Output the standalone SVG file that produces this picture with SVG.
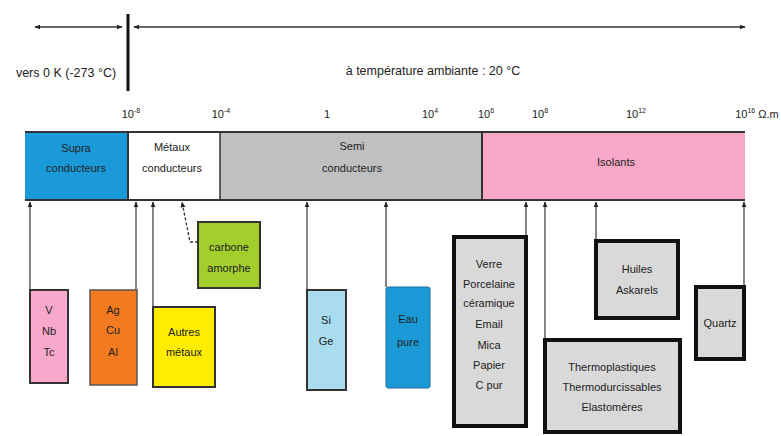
<svg xmlns="http://www.w3.org/2000/svg" width="781" height="436" viewBox="0 0 781 436">
<defs>
<marker id="ah" viewBox="0 0 10 10" refX="9" refY="5" markerWidth="6" markerHeight="6" orient="auto-start-reverse" markerUnits="userSpaceOnUse"><path d="M0,1 L10,5 L0,9 z" fill="#222"/></marker>
<style>
text{font-family:"Liberation Sans Narrow","Liberation Sans",Arial,sans-serif;font-size:11px;fill:#222;text-anchor:middle}
.lbl{font-size:10.5px}
.big{font-size:12.5px}
.c{stroke:#444;stroke-width:1.3;fill:none}
.box{stroke:#333;stroke-width:2}
.gbox{fill:#d9d9d9;stroke:#111;stroke-width:4}
</style>
</defs>
<rect width="781" height="436" fill="#fff"/>
<g id="top">
<line x1="35" y1="27" x2="122" y2="27" stroke="#333" stroke-width="1.5" marker-start="url(#ah)" marker-end="url(#ah)"/>
<line x1="128" y1="14" x2="128" y2="91" stroke="#111" stroke-width="3"/>
<line x1="134" y1="27" x2="745" y2="27" stroke="#333" stroke-width="1.5" marker-start="url(#ah)" marker-end="url(#ah)"/>
<text class="big" x="66" y="77">vers 0 K (-273 °C)</text>
<text class="big" x="433" y="75">à température ambiante : 20 °C</text>
</g>
<g id="scale" class="lbl">
<text x="131" y="118">10<tspan dy="-5" font-size="7">-8</tspan></text>
<text x="221" y="118">10<tspan dy="-5" font-size="7">-4</tspan></text>
<text x="327" y="118">1</text>
<text x="430" y="118">10<tspan dy="-5" font-size="7">4</tspan></text>
<text x="486" y="118">10<tspan dy="-5" font-size="7">6</tspan></text>
<text x="540" y="118">10<tspan dy="-5" font-size="7">8</tspan></text>
<text x="636" y="118">10<tspan dy="-5" font-size="7">12</tspan></text>
<text x="757" y="118">10<tspan dy="-5" font-size="7">16</tspan><tspan dy="5"> Ω.m</tspan></text>
</g>
<g id="bar">
<rect x="25" y="132" width="103" height="68" fill="#1b9ad9"/>
<rect x="128" y="132" width="92" height="68" fill="#fff"/>
<rect x="220" y="132" width="262" height="68" fill="#c0c0c0"/>
<rect x="482" y="132" width="263" height="68" fill="#f9a7c6"/>
<line x1="25" y1="132" x2="745" y2="132" stroke="#333" stroke-width="2"/>
<line x1="25" y1="200" x2="745" y2="200" stroke="#333" stroke-width="2"/>
<line x1="128" y1="132" x2="128" y2="200" stroke="#333" stroke-width="2"/>
<line x1="220" y1="132" x2="220" y2="200" stroke="#333" stroke-width="1.5"/>
<line x1="482" y1="132" x2="482" y2="200" stroke="#333" stroke-width="2"/>
<text x="76" y="152">Supra</text><text x="76" y="172">conducteurs</text>
<text x="172" y="151">Métaux</text><text x="172" y="172">conducteurs</text>
<text x="352" y="150">Semi</text><text x="352" y="172">conducteurs</text>
<text x="616" y="166">Isolants</text>
</g>
<g id="connectors">
<line class="c" x1="30" y1="290" x2="30" y2="202" marker-end="url(#ah)"/>
<line class="c" x1="136" y1="290" x2="136" y2="202" marker-end="url(#ah)"/>
<line class="c" x1="153" y1="307" x2="153" y2="202" marker-end="url(#ah)"/>
<polyline points="198,242 190,242 182,202" fill="none" stroke="#334" stroke-width="1.3" stroke-dasharray="3,2" marker-end="url(#ah)"/>
<line class="c" x1="307" y1="290" x2="307" y2="202" marker-end="url(#ah)"/>
<line class="c" x1="386" y1="287" x2="386" y2="202" marker-end="url(#ah)"/>
<line class="c" x1="526" y1="235" x2="526" y2="202" marker-end="url(#ah)"/>
<line class="c" x1="545" y1="338" x2="545" y2="202" marker-end="url(#ah)"/>
<line class="c" x1="596" y1="240" x2="596" y2="202" marker-end="url(#ah)"/>
<line class="c" x1="744" y1="285" x2="744" y2="202" marker-end="url(#ah)"/>
</g>
<g id="supra"><rect class="box" x="30" y="290" width="38" height="93" fill="#f7a8cb"/>
<text x="49" y="314">V</text><text x="49" y="335">Nb</text><text x="49" y="356">Tc</text></g>
<g id="metaux"><rect x="90" y="290" width="47" height="95" fill="#f47a20" stroke="#555" stroke-width="1.5"/>
<text x="113" y="314">Ag</text><text x="113" y="334">Cu</text><text x="113" y="356">Al</text></g>
<g id="autres"><rect class="box" x="153" y="307" width="62" height="80" fill="#ffec00"/>
<text x="184" y="336">Autres</text><text x="184" y="356">métaux</text></g>
<g id="carbone"><rect class="box" x="198" y="222" width="62" height="66" fill="#a2cf2c"/>
<text x="229" y="251">carbone</text><text x="229" y="272">amorphe</text></g>
<g id="sige"><rect class="box" x="307" y="290" width="39" height="100" fill="#a9dcee"/>
<text x="326" y="324">Si</text><text x="326" y="345">Ge</text></g>
<g id="eau"><rect x="386" y="287" width="44" height="101" rx="2" fill="#1c9ad7" stroke="#1b6d9b" stroke-width="1"/>
<text x="408" y="323">Eau</text><text x="408" y="346">pure</text></g>
<g id="verre"><rect class="gbox" x="454" y="237" width="72" height="189"/>
<text x="489" y="268">Verre</text><text x="489" y="288">Porcelaine</text><text x="489" y="307">céramique</text><text x="489" y="328">Email</text><text x="489" y="349">Mica</text><text x="489" y="369">Papier</text><text x="489" y="389">C pur</text></g>
<g id="huiles"><rect class="gbox" x="596" y="241" width="82" height="77"/>
<text x="637" y="273">Huiles</text><text x="637" y="294">Askarels</text></g>
<g id="quartz"><rect class="gbox" x="696" y="287" width="48" height="72"/>
<text x="720" y="327">Quartz</text></g>
<g id="thermo"><rect class="gbox" x="545" y="340" width="135" height="92"/>
<text x="612" y="371">Thermoplastiques</text><text x="612" y="391">Thermodurcissables</text><text x="612" y="411">Elastomères</text></g>
</svg>
